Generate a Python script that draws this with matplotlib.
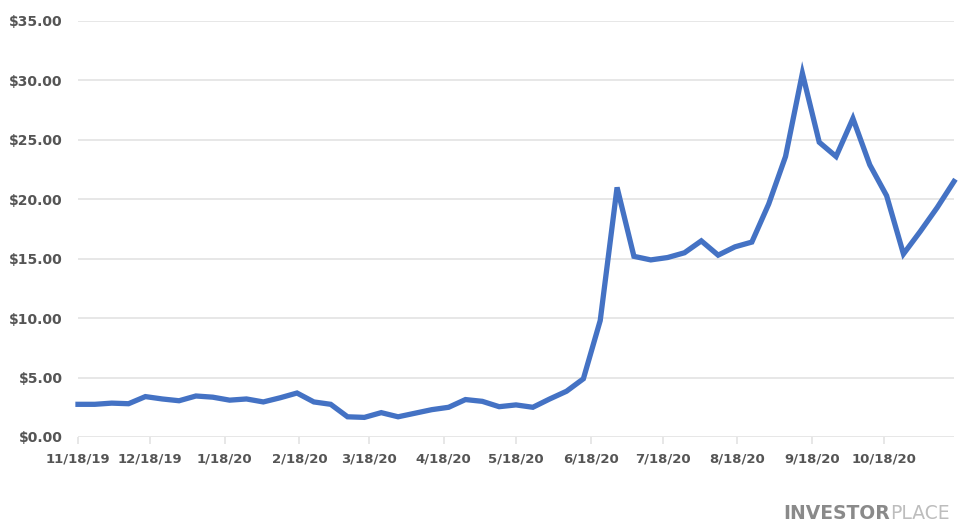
import pandas as pd
import matplotlib.pyplot as plt

# weekly closing prices, starting 11/18/19
start_date = "2019-11-18"
prices = [2.75, 2.75, 2.85, 2.8, 3.4, 3.2, 3.05, 3.45, 3.35, 3.1,
          3.2, 2.95, 3.3, 3.7, 2.95, 2.75, 1.7, 1.65, 2.05, 1.7,
          2.0, 2.3, 2.5, 3.15, 3.0, 2.55, 2.7, 2.5, 3.2, 3.85,
          4.9, 9.8, 21.0, 15.2, 14.9, 15.1, 15.5, 16.5, 15.3, 16.0,
          16.4, 19.6, 23.6, 30.6, 24.8, 23.6, 26.8, 22.9, 20.3, 15.4,
          17.3, 19.3, 21.5]

tick_dates = ["2019-11-18", "2019-12-18", "2020-01-18", "2020-02-18",
              "2020-03-18", "2020-04-18", "2020-05-18", "2020-06-18",
              "2020-07-18", "2020-08-18", "2020-09-18", "2020-10-18"]
tick_labels = ["11/18/19", "12/18/19", "1/18/20", "2/18/20", "3/18/20",
               "4/18/20", "5/18/20", "6/18/20", "7/18/20", "8/18/20",
               "9/18/20", "10/18/20"]
y_ticks = [0, 5, 10, 15, 20, 25, 30, 35]

dates = pd.date_range(start_date, periods=len(prices), freq="7D")

fig = plt.figure(figsize=(9.67, 5.25), dpi=100)
ax = fig.add_axes([78 / 967, (525 - 437) / 525, (954 - 78) / 967, (437 - 21) / 525])

ax.plot(dates, prices, color="#4472C4", linewidth=3.8, solid_joinstyle="miter",
        zorder=3, clip_on=False)

ax.set_xlim(dates[0], dates[-1])
ax.set_ylim(0, 35)

# gridlines
ax.set_yticks(y_ticks)
ax.set_yticklabels([f"${v:.2f}" for v in y_ticks])
ax.yaxis.grid(True, color="#e0e0e0", linewidth=1.1)
ax.set_axisbelow(True)

ax.set_xticks(pd.to_datetime(tick_dates))
ax.set_xticklabels(tick_labels)

for s in ax.spines.values():
    s.set_visible(False)

ax.tick_params(axis="y", length=0, pad=11, labelsize=10, labelcolor="#555555")
ax.tick_params(axis="x", length=5, width=1.1, color="#e0e0e0", pad=6,
               labelsize=9.5, labelcolor="#555555")
for lbl in ax.get_xticklabels() + ax.get_yticklabels():
    lbl.set_fontweight("bold")

# watermark
t = fig.text(783 / 967, 2 / 525, "INVESTOR", fontsize=13.5, color="#8a8a8a",
             fontweight="bold", ha="left", va="bottom")
ax.annotate("PLACE", xy=(1, 0), xycoords=t, fontsize=13.5, color="#bdbdbd",
            ha="left", va="bottom", annotation_clip=False)

fig.savefig("out.png", dpi=100)
